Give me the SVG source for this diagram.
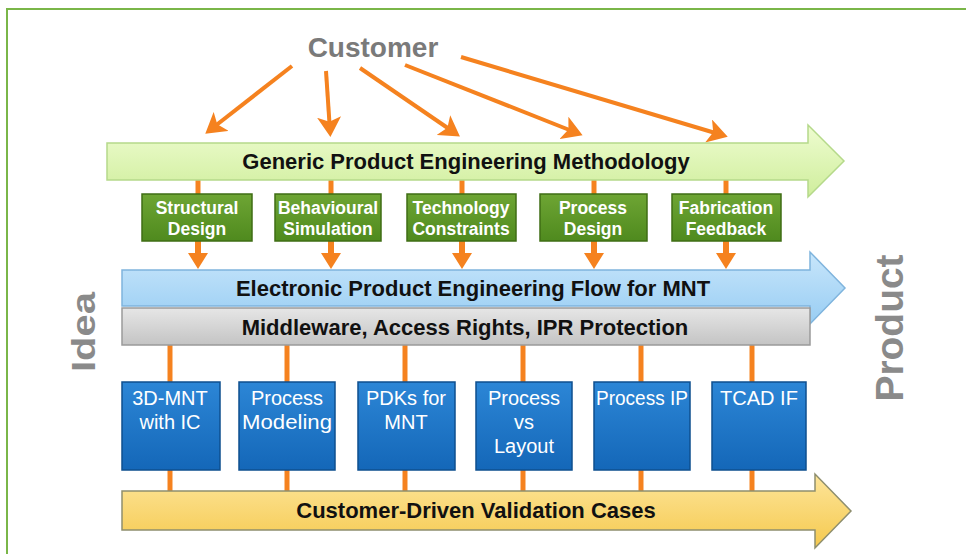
<svg xmlns="http://www.w3.org/2000/svg" width="966" height="554" viewBox="0 0 966 554">
<defs>
<style>
.t{font-family:"Liberation Sans",Arial,sans-serif;font-weight:bold;text-anchor:middle}
.bar{font-size:22px;fill:#111}
.gb{font-size:17.5px;fill:#fff}
.bb{font-family:"Liberation Sans",Arial,sans-serif;font-size:20px;fill:#fff;text-anchor:middle}
.side{font-family:"Liberation Sans",Arial,sans-serif;font-weight:bold;fill:#8a8a8a;text-anchor:middle}
.ln{stroke:#f5821f;stroke-width:5;fill:none}
.cl{stroke:#f5821f;stroke-width:4;fill:none;marker-end:url(#ah)}
.gbox{fill:url(#gg);stroke:#3f6d14;stroke-width:1.5}
.bbox{fill:url(#bg);stroke:#0e4f8f;stroke-width:1.5}
</style>
<linearGradient id="ga" x1="0" y1="0" x2="0" y2="1"><stop offset="0" stop-color="#eefcd0"/><stop offset="1" stop-color="#cfee9c"/></linearGradient>
<linearGradient id="ba" x1="0" y1="0" x2="0" y2="1"><stop offset="0" stop-color="#c8e6fb"/><stop offset="1" stop-color="#98cdf3"/></linearGradient>
<linearGradient id="ya" x1="0" y1="0" x2="0" y2="1"><stop offset="0" stop-color="#fde59a"/><stop offset="1" stop-color="#f5c94e"/></linearGradient>
<linearGradient id="gr" x1="0" y1="0" x2="0" y2="1"><stop offset="0" stop-color="#e6e6e6"/><stop offset="1" stop-color="#c4c4c4"/></linearGradient>
<linearGradient id="gg" x1="0" y1="0" x2="0" y2="1"><stop offset="0" stop-color="#6ea534"/><stop offset="1" stop-color="#4f8a1e"/></linearGradient>
<linearGradient id="bg" x1="0" y1="0" x2="0" y2="1"><stop offset="0" stop-color="#2c86d6"/><stop offset="1" stop-color="#1467b8"/></linearGradient>
<marker id="ah" markerWidth="6" markerHeight="6" refX="3.5" refY="3" orient="auto" markerUnits="strokeWidth"><path d="M0,0 L5,3 L0,6 L1.2,3 Z" fill="#f5821f"/></marker>
</defs>
<rect x="0" y="0" width="966" height="554" fill="#fff"/>
<path d="M7,554 V9 H966" fill="none" stroke="#7ab648" stroke-width="2"/>

<text class="side" x="373" y="57" font-size="28" style="fill:#7a7a7a">Customer</text>
<text class="side" transform="translate(95,332) rotate(-90)" font-size="34" textLength="80" lengthAdjust="spacingAndGlyphs">Idea</text>
<text class="side" transform="translate(903,328) rotate(-90)" font-size="38" textLength="147" lengthAdjust="spacingAndGlyphs">Product</text>

<g id="connectors">
<line class="cl" x1="292" y1="66" x2="210" y2="130"/>
<line class="cl" x1="326" y1="71" x2="330" y2="131"/>
<line class="cl" x1="360" y1="68" x2="455" y2="133"/>
<line class="cl" x1="405" y1="65" x2="577" y2="133"/>
<line class="cl" x1="461" y1="57" x2="722" y2="135"/>
<line class="ln" x1="198" y1="180" x2="198" y2="194"/>
<line class="ln" x1="331" y1="180" x2="331" y2="194"/>
<line class="ln" x1="462" y1="180" x2="462" y2="194"/>
<line class="ln" x1="594" y1="180" x2="594" y2="194"/>
<line class="ln" x1="726" y1="180" x2="726" y2="194"/>
<g fill="#f5821f">
<path d="M195,241h6v12h7l-10,16l-10,-16h7z"/>
<path d="M328,241h6v12h7l-10,16l-10,-16h7z"/>
<path d="M459,241h6v12h7l-10,16l-10,-16h7z"/>
<path d="M591,241h6v12h7l-10,16l-10,-16h7z"/>
<path d="M723,241h6v12h7l-10,16l-10,-16h7z"/>
</g>
<g class="ln">
<line x1="170" y1="345" x2="170" y2="383"/>
<line x1="287" y1="345" x2="287" y2="383"/>
<line x1="405" y1="345" x2="405" y2="383"/>
<line x1="523" y1="345" x2="523" y2="383"/>
<line x1="641" y1="345" x2="641" y2="383"/>
<line x1="752" y1="345" x2="752" y2="383"/>
<line x1="170" y1="470" x2="170" y2="491"/>
<line x1="287" y1="470" x2="287" y2="491"/>
<line x1="405" y1="470" x2="405" y2="491"/>
<line x1="523" y1="470" x2="523" y2="491"/>
<line x1="641" y1="470" x2="641" y2="491"/>
<line x1="752" y1="470" x2="752" y2="491"/>
</g>
</g>

<g id="generic">
<path d="M107,143 H808 V125 L844,161 L808,197 V180 H107 Z" fill="url(#ga)" stroke="#b5d98a" stroke-width="1.5"/>
<text class="t bar" x="466" y="169">Generic Product Engineering Methodology</text>
</g>

<g id="structural"><rect class="gbox" x="142" y="194" width="110" height="47"/><text class="t gb" x="197" y="214">Structural</text><text class="t gb" x="197" y="235">Design</text></g>
<g id="behavioural"><rect class="gbox" x="275" y="194" width="106" height="47"/><text class="t gb" x="328" y="214">Behavioural</text><text class="t gb" x="328" y="235">Simulation</text></g>
<g id="technology"><rect class="gbox" x="407" y="194" width="109" height="47"/><text class="t gb" x="461" y="214">Technology</text><text class="t gb" x="461" y="235">Constraints</text></g>
<g id="processdesign"><rect class="gbox" x="540" y="194" width="107" height="47"/><text class="t gb" x="593" y="214">Process</text><text class="t gb" x="593" y="235">Design</text></g>
<g id="fabrication"><rect class="gbox" x="672" y="194" width="109" height="47"/><text class="t gb" x="726" y="214">Fabrication</text><text class="t gb" x="726" y="235">Feedback</text></g>

<g id="electronic">
<path d="M122,270 H810 V252 L845,288 L810,324 V306 H122 Z" fill="url(#ba)" stroke="#7fb4dd" stroke-width="1.5"/>
<text class="t bar" x="473" y="296">Electronic Product Engineering Flow for MNT</text>
</g>
<g id="middleware">
<rect x="122" y="308" width="688" height="37" fill="url(#gr)" stroke="#9a9a9a" stroke-width="1.5"/>
<text class="t bar" x="465" y="335">Middleware, Access Rights, IPR Protection</text>
</g>

<g id="mnt3d"><rect class="bbox" x="122" y="382" width="98" height="88"/><text class="bb" x="170" y="405">3D-MNT</text><text class="bb" x="170" y="429">with IC</text></g>
<g id="procmodel"><rect class="bbox" x="239" y="382" width="96" height="88"/><text class="bb" x="287" y="405">Process</text><text class="bb" x="287" y="429" textLength="90" lengthAdjust="spacingAndGlyphs">Modeling</text></g>
<g id="pdks"><rect class="bbox" x="358" y="382" width="97" height="88"/><text class="bb" x="406" y="405">PDKs for</text><text class="bb" x="406" y="429">MNT</text></g>
<g id="pvl"><rect class="bbox" x="476" y="382" width="96" height="88"/><text class="bb" x="524" y="405">Process</text><text class="bb" x="524" y="429">vs</text><text class="bb" x="524" y="453">Layout</text></g>
<g id="procip"><rect class="bbox" x="594" y="382" width="96" height="88"/><text class="bb" x="642" y="405" textLength="92" lengthAdjust="spacingAndGlyphs">Process IP</text></g>
<g id="tcad"><rect class="bbox" x="712" y="382" width="94" height="88"/><text class="bb" x="759" y="405">TCAD IF</text></g>

<g id="validation">
<path d="M122,491 H815 V474 L851,511 L815,548 V530 H122 Z" fill="url(#ya)" stroke="#8e8e6e" stroke-width="1.5"/>
<text class="t bar" x="476" y="518">Customer-Driven Validation Cases</text>
</g>
</svg>
